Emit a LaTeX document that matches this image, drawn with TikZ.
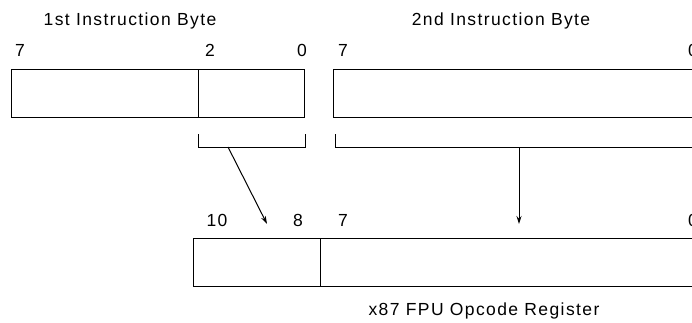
\documentclass[tikz,border=0pt]{standalone}
\usepackage{fontspec}
\setmainfont{Liberation Sans}[LetterSpace=8]
\usetikzlibrary{arrows.meta}
\begin{document}
\begin{tikzpicture}[x=1pt,y=-1pt,
  field/.style={draw,line width=1.1pt,minimum height=48pt,inner sep=0pt,anchor=north west},
  lbl/.style={font=\fontsize{17.5}{20}\selectfont,inner sep=0pt},
  brk/.style={line width=0.9pt},
  arr/.style={line width=1pt,-{Stealth[length=8pt,width=5pt]}}]
\useasboundingbox (0,0) rectangle (692,322);
\clip (0,0) rectangle (692,322);
% titles
\node[lbl] (t1) at (130,21) {1st Instruction Byte};
\node[lbl] (t2) at (501,21) {2nd Instruction Byte};
\node[lbl] (t3) at (484,311) {x87 FPU Opcode Register};
% bit numbers
\node[lbl] (b7a) at (20,50) {7};
\node[lbl] (b2a) at (210,50) {2};
\node[lbl] (b0a) at (302,50) {0};
\node[lbl] (b7b) at (343,50) {7};
\node[lbl] (b0b) at (693,50) {0};
\node[lbl] (r10) at (217,220) {10};
\node[lbl] (r8) at (298,220) {8};
\node[lbl] (r7) at (343,220) {7};
\node[lbl] (r0) at (693,220) {0};
% fields
\node[field,minimum width=187pt] (f1a) at (11,69) {};
\node[field,minimum width=106pt] (f1b) at (198,69) {};
\node[field,minimum width=380pt] (f2) at (333,69) {};
\node[field,minimum width=127pt] (g1) at (193,238) {};
\node[field,minimum width=390pt] (g2) at (320,238) {};
% brackets
\draw[brk] (198,134) -- (198,147) -- (305,147) -- (305,134);
\draw[brk] (335,134) -- (335,147) -- (710,147);
\coordinate (s1) at (228,147);
\coordinate (s2) at (519,147);
\coordinate (e1) at (267,224);
\coordinate (e2) at (519,224);
\draw[arr] (s1) -- (e1);
\draw[arr] (s2) -- (e2);
\end{tikzpicture}
\end{document}
